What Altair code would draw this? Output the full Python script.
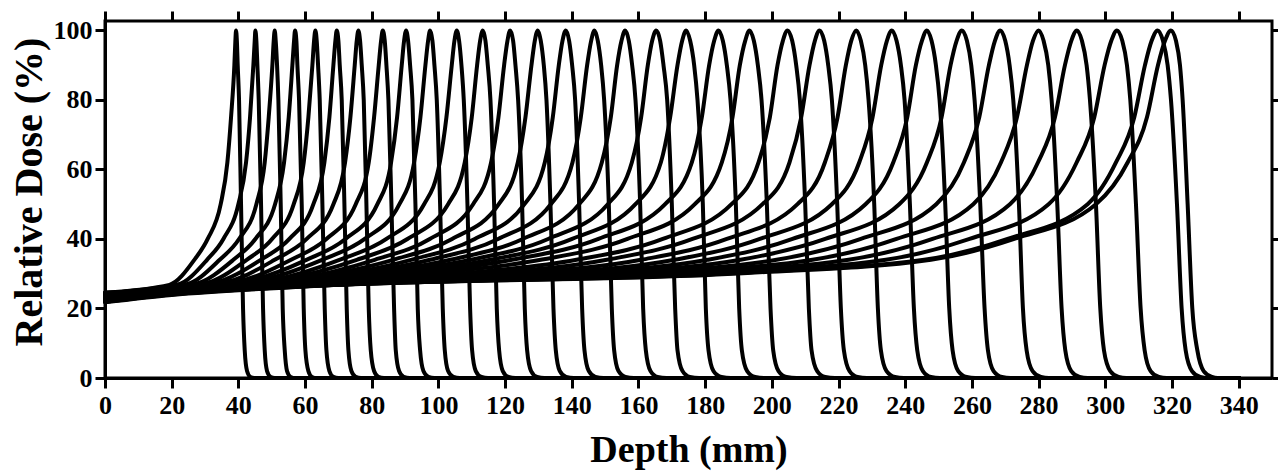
import altair as alt
import pandas as pd

# Peak depths (mm) of the 33 Bragg curves
peaks = [39.3, 45.1, 50.9, 57.0, 63.1, 69.5, 76.0, 83.3, 90.3, 97.5, 105.5, 113.3,
         121.5, 129.8, 138.2, 146.8, 156.0, 165.3, 174.3, 184.0, 193.3, 204.7, 214.3,
         225.3, 236.0, 246.5, 257.0, 268.5, 280.0, 291.5, 303.5, 315.7, 319.7]

# Depth (mm) / relative dose (%) points of each curve
d00 = [0, 19.3, 26.8, 30.8, 34.7, 36.7, 37.8, 38.8, 39.1, 39.3, 39.55, 39.8, 40.2, 40.8, 41.4, 41.9, 42.6, 43.6, 44.8, 340]
v00 = [24.6, 26.8, 34, 40, 50, 62, 75, 90, 97, 100, 97, 90, 80, 50, 20, 8, 2, 0.3, 0, 0]
d01 = [0, 21.9, 30.6, 35.5, 40.0, 42.3, 43.5, 44.5, 44.9, 45.1, 45.4, 45.7, 46.1, 46.8, 47.4, 47.9, 48.6, 49.7, 50.9, 340]
v01 = [24.4, 26.9, 34, 40, 50, 62, 75, 90, 97, 100, 97, 90, 80, 50, 20, 8, 2, 0.3, 0, 0]
d02 = [0, 24.5, 34.4, 40.2, 45.4, 47.9, 49.1, 50.2, 50.6, 50.9, 51.2, 51.6, 52.0, 52.7, 53.3, 53.9, 54.6, 55.7, 57.1, 340]
v02 = [24.5, 27.0, 34, 40, 50, 62, 75, 90, 97, 100, 97, 90, 80, 50, 20, 8, 2, 0.3, 0, 0]
d03 = [0, 27.2, 38.5, 45.1, 51.0, 53.7, 55.1, 56.2, 56.7, 57.0, 57.4, 57.7, 58.2, 59.0, 59.6, 60.1, 61.0, 62.1, 63.5, 340]
v03 = [24.2, 27.1, 34, 40, 50, 62, 75, 90, 97, 100, 97, 90, 80, 50, 20, 8, 2, 0.3, 0, 0]
d04 = [0, 30.0, 42.5, 50.1, 56.6, 59.6, 61.0, 62.2, 62.7, 63.1, 63.5, 63.9, 64.4, 65.2, 65.9, 66.4, 67.3, 68.5, 70.0, 340]
v04 = [24.3, 27.2, 34, 40, 50, 62, 75, 90, 97, 100, 97, 90, 80, 50, 20, 8, 2, 0.3, 0, 0]
d05 = [0, 32.8, 46.7, 55.3, 62.5, 65.8, 67.3, 68.5, 69.1, 69.5, 70.0, 70.4, 71.0, 71.8, 72.5, 73.0, 73.9, 75.2, 76.8, 340]
v05 = [24.0, 27.4, 34, 40, 50, 62, 75, 90, 97, 100, 97, 90, 80, 50, 20, 8, 2, 0.3, 0, 0]
d06 = [0, 20, 35.7, 50.9, 60.5, 68.5, 72.0, 73.6, 74.9, 75.5, 76.0, 76.5, 77.0, 77.6, 78.4, 79.1, 79.7, 80.7, 82.0, 83.7, 340]
v06 = [24.1, 26.3, 27.5, 34, 40, 50, 62, 75, 90, 97, 100, 97, 90, 80, 50, 20, 8, 2, 0.3, 0, 0]
d07 = [0, 20, 39.0, 55.8, 66.4, 75.2, 79.1, 80.7, 82.1, 82.8, 83.3, 83.9, 84.4, 85.0, 85.9, 86.7, 87.2, 88.2, 89.6, 91.4, 340]
v07 = [23.8, 26.0, 27.6, 34, 40, 50, 62, 75, 90, 97, 100, 97, 90, 80, 50, 20, 8, 2, 0.3, 0, 0]
d08 = [0, 20, 42.1, 60.4, 72.1, 81.7, 85.8, 87.6, 89.0, 89.7, 90.3, 90.9, 91.5, 92.2, 93.1, 93.8, 94.5, 95.5, 97.0, 98.8, 340]
v08 = [23.9, 26.1, 27.8, 34, 40, 50, 62, 75, 90, 97, 100, 97, 90, 80, 50, 20, 8, 2, 0.3, 0, 0]
d09 = [0, 20, 45.3, 65.1, 77.9, 88.3, 92.7, 94.6, 96.1, 96.9, 97.5, 98.2, 98.8, 99.5, 100.5, 101.3, 101.9, 102.9, 104.5, 106.4, 340]
v09 = [23.6, 25.8, 27.9, 34, 40, 50, 62, 75, 90, 97, 100, 97, 90, 80, 50, 20, 8, 2, 0.3, 0, 0]
d10 = [0, 20, 48.9, 70.3, 84.4, 95.7, 100.4, 102.4, 104.0, 104.8, 105.5, 106.2, 106.9, 107.6, 108.7, 109.5, 110.1, 111.2, 112.9, 114.9, 340]
v10 = [23.7, 25.9, 28.0, 34, 40, 50, 62, 75, 90, 97, 100, 97, 90, 80, 50, 20, 8, 2, 0.3, 0, 0]
d11 = [0, 20, 52.4, 75.5, 90.7, 102.9, 107.9, 110.0, 111.6, 112.5, 113.3, 114.1, 114.8, 115.6, 116.7, 117.5, 118.2, 119.3, 121.0, 123.1, 340]
v11 = [23.4, 25.6, 28.2, 34, 40, 50, 62, 75, 90, 97, 100, 97, 90, 80, 50, 20, 8, 2, 0.3, 0, 0]
d12 = [0, 20, 56.1, 80.9, 97.4, 110.4, 115.8, 118.0, 119.7, 120.7, 121.5, 122.4, 123.1, 123.9, 125.1, 125.9, 126.6, 127.8, 129.6, 131.8, 340]
v12 = [23.5, 25.7, 28.3, 34, 40, 50, 62, 75, 90, 97, 100, 97, 90, 80, 50, 20, 8, 2, 0.3, 0, 0]
d13 = [0, 20, 59.8, 86.4, 104.1, 118.1, 123.8, 126.1, 127.9, 128.9, 129.8, 130.7, 131.6, 132.4, 133.6, 134.5, 135.2, 136.4, 138.3, 140.6, 340]
v13 = [23.2, 25.4, 28.5, 34, 40, 50, 62, 75, 90, 97, 100, 97, 90, 80, 50, 20, 8, 2, 0.3, 0, 0]
d14 = [0, 20, 63.5, 91.8, 110.9, 125.8, 131.9, 134.3, 136.1, 137.2, 138.2, 139.2, 140.1, 141.0, 142.2, 143.1, 143.8, 145.1, 147.1, 149.5, 340]
v14 = [23.3, 25.5, 28.6, 34, 40, 50, 62, 75, 90, 97, 100, 97, 90, 80, 50, 20, 8, 2, 0.3, 0, 0]
d15 = [0, 20, 67.4, 97.5, 117.9, 133.7, 140.2, 142.7, 144.6, 145.8, 146.8, 147.8, 148.8, 149.7, 151.1, 152.0, 152.7, 154.0, 156.1, 158.6, 340]
v15 = [23.0, 25.2, 28.8, 34, 40, 50, 62, 75, 90, 97, 100, 97, 90, 80, 50, 20, 8, 2, 0.3, 0, 0]
d16 = [0, 20, 71.4, 103.6, 125.3, 142.2, 149.0, 151.7, 153.6, 154.9, 156.0, 157.1, 158.1, 159.1, 160.5, 161.4, 162.2, 163.6, 165.7, 168.4, 340]
v16 = [23.1, 25.3, 29.0, 34, 40, 50, 62, 75, 90, 97, 100, 97, 90, 80, 50, 20, 8, 2, 0.3, 0, 0]
d17 = [0, 20, 75.6, 109.7, 132.9, 150.8, 158.0, 160.8, 162.8, 164.1, 165.3, 166.5, 167.5, 168.6, 170.0, 171.0, 171.7, 173.2, 175.4, 178.2, 340]
v17 = [22.8, 25.0, 29.2, 34, 40, 50, 62, 75, 90, 97, 100, 97, 90, 80, 50, 20, 8, 2, 0.3, 0, 0]
d18 = [0, 20, 79.7, 115.6, 140.1, 159.1, 166.7, 169.5, 171.7, 173.1, 174.3, 175.5, 176.7, 177.7, 179.3, 180.2, 181.0, 182.5, 184.9, 187.7, 340]
v18 = [22.9, 25.1, 29.3, 34, 40, 50, 62, 75, 90, 97, 100, 97, 90, 80, 50, 20, 8, 2, 0.3, 0, 0]
d19 = [0, 20, 84.0, 122.0, 148.0, 168.0, 176.0, 179.0, 181.2, 182.7, 184.0, 185.3, 186.5, 187.6, 189.2, 190.2, 191.0, 192.6, 195.0, 198.0, 340]
v19 = [22.6, 24.8, 29.5, 34, 40, 50, 62, 75, 90, 97, 100, 97, 90, 80, 50, 20, 8, 2, 0.3, 0, 0]
d20 = [0, 20, 91.5, 130.7, 156.7, 176.9, 185.0, 188.2, 190.4, 192.0, 193.3, 194.6, 195.8, 196.9, 198.5, 199.6, 200.4, 202.0, 204.4, 207.4, 340]
v20 = [22.7, 24.9, 29.6, 34, 40, 50, 62, 75, 90, 97, 100, 97, 90, 80, 50, 20, 8, 2, 0.3, 0, 0]
d21 = [0, 20, 100.8, 141.4, 167.3, 187.9, 196.0, 199.4, 201.7, 203.3, 204.7, 206.1, 207.3, 208.4, 210.0, 211.1, 211.9, 213.6, 216.0, 218.9, 340]
v21 = [22.4, 24.6, 29.6, 34, 40, 50, 62, 75, 90, 97, 100, 97, 90, 80, 50, 20, 8, 2, 0.3, 0, 0]
d22 = [0, 20, 60, 108.6, 150.5, 176.2, 197.2, 205.3, 208.8, 211.3, 212.9, 214.3, 215.7, 216.9, 218.0, 219.6, 220.7, 221.6, 223.3, 225.7, 228.5, 340]
v22 = [22.5, 24.7, 27.0, 29.7, 34, 40, 50, 62, 75, 90, 97, 100, 97, 90, 80, 50, 20, 8, 2, 0.3, 0, 0]
d23 = [0, 20, 60, 117.4, 160.8, 186.5, 207.7, 215.9, 219.7, 222.2, 223.8, 225.3, 226.7, 228.0, 229.0, 230.7, 231.8, 232.7, 234.4, 236.9, 239.6, 340]
v23 = [22.2, 24.4, 26.7, 29.8, 34, 40, 50, 62, 75, 90, 97, 100, 97, 90, 80, 50, 20, 8, 2, 0.3, 0, 0]
d24 = [0, 20, 60, 126.1, 170.8, 196.4, 218.0, 226.2, 230.2, 232.8, 234.5, 236.0, 237.4, 238.7, 239.8, 241.4, 242.6, 243.6, 245.3, 247.7, 250.4, 340]
v24 = [22.3, 24.5, 26.8, 29.8, 34, 40, 50, 62, 75, 90, 97, 100, 97, 90, 80, 50, 20, 8, 2, 0.3, 0, 0]
d25 = [0, 20, 60, 134.6, 180.7, 206.2, 228.1, 236.4, 240.6, 243.2, 245.0, 246.5, 247.9, 249.2, 250.3, 252.0, 253.2, 254.2, 255.9, 258.4, 261.0, 340]
v25 = [22.1, 24.3, 26.6, 29.9, 34, 40, 50, 62, 75, 90, 97, 100, 97, 90, 80, 50, 20, 8, 2, 0.3, 0, 0]
d26 = [0, 20, 60, 143.1, 190.6, 216.0, 238.2, 246.5, 250.9, 253.6, 255.4, 257.0, 258.5, 259.8, 260.8, 262.5, 263.8, 264.8, 266.5, 269.0, 271.6, 340]
v26 = [22.2, 24.4, 26.7, 29.9, 34, 40, 50, 62, 75, 90, 97, 100, 97, 90, 80, 50, 20, 8, 2, 0.3, 0, 0]
d27 = [0, 20, 60, 152.5, 201.4, 226.7, 249.3, 257.6, 262.2, 265.1, 266.9, 268.5, 270.0, 271.3, 272.4, 274.1, 275.3, 276.4, 278.2, 280.7, 283.1, 340]
v27 = [22.0, 24.2, 26.5, 30.0, 34, 40, 50, 62, 75, 90, 97, 100, 97, 90, 80, 50, 20, 8, 2, 0.3, 0, 0]
d28 = [0, 20, 60, 161.8, 212.2, 237.4, 260.4, 268.7, 273.5, 276.5, 278.3, 280.0, 281.5, 282.9, 283.9, 285.6, 286.9, 288.0, 289.8, 292.3, 294.7, 340]
v28 = [22.1, 24.3, 26.6, 30.1, 34, 40, 50, 62, 75, 90, 97, 100, 97, 90, 80, 50, 20, 8, 2, 0.3, 0, 0]
d29 = [0, 20, 60, 171.1, 223.0, 248.2, 271.4, 279.8, 284.9, 287.9, 289.8, 291.5, 293.0, 294.4, 295.4, 297.2, 298.5, 299.6, 301.5, 304.0, 306.3, 340]
v29 = [21.9, 24.1, 26.4, 30.2, 34, 40, 50, 62, 75, 90, 97, 100, 97, 90, 80, 50, 20, 8, 2, 0.3, 0, 0]
d30 = [0, 20, 60, 180.8, 234.2, 259.3, 283.0, 291.4, 296.7, 299.8, 301.8, 303.5, 305.1, 306.5, 307.5, 309.2, 310.6, 311.8, 313.6, 316.1, 318.4, 340]
v30 = [22.0, 24.2, 26.5, 30.2, 34, 40, 50, 62, 75, 90, 97, 100, 97, 90, 80, 50, 20, 8, 2, 0.3, 0, 0]
d31 = [0, 20, 60, 190.7, 245.7, 270.7, 294.7, 303.2, 308.7, 311.9, 313.9, 315.7, 317.3, 318.7, 319.7, 321.5, 322.9, 324.1, 326.0, 328.5, 330.7, 340]
v31 = [21.8, 23.9, 26.3, 30.3, 34, 40, 50, 62, 75, 90, 97, 100, 97, 90, 80, 50, 20, 8, 2, 0.3, 0, 0]
d32 = [0, 20, 60, 192.7, 247.7, 272.7, 297.2, 306.7, 312.5, 315.8, 317.9, 319.7, 321.2, 322.4, 323.2, 324.7, 326.1, 327.6, 329.5, 332.0, 333.7, 340]
v32 = [21.9, 24.0, 26.4, 30.2, 34, 40, 50, 62, 75, 90, 97, 100, 97, 90, 80, 50, 20, 8, 2, 0.3, 0, 0]

x_ticks = [0, 20, 40, 60, 80, 100, 120, 140, 160, 180, 200, 220, 240, 260, 280, 300, 320, 340]
y_ticks = [0, 20, 40, 60, 80, 100]

curves = [(d00, v00), (d01, v01), (d02, v02), (d03, v03), (d04, v04), (d05, v05),
          (d06, v06), (d07, v07), (d08, v08), (d09, v09), (d10, v10), (d11, v11),
          (d12, v12), (d13, v13), (d14, v14), (d15, v15), (d16, v16), (d17, v17),
          (d18, v18), (d19, v19), (d20, v20), (d21, v21), (d22, v22), (d23, v23),
          (d24, v24), (d25, v25), (d26, v26), (d27, v27), (d28, v28), (d29, v29),
          (d30, v30), (d31, v31), (d32, v32)]

rows = []
for i, (ds, vs) in enumerate(curves):
    assert len(ds) == len(vs), i
    for j, (x, y) in enumerate(zip(ds, vs)):
        rows.append({"curve": i, "ord": j, "depth": x, "dose": y})
df = pd.DataFrame(rows)

FONT = "Liberation Serif"
W, H = 1167, 357

xscale = alt.Scale(domain=[0, 350], nice=False, zero=False)
yscale = alt.Scale(domain=[0, 102.7], nice=False, zero=False)

common_axis = dict(
    domainColor="black", domainWidth=3, tickColor="black", tickWidth=3, tickSize=10,
    grid=False, labelFont=FONT, labelFontWeight="bold", labelFontSize=26,
    labelColor="black", titleFont=FONT, titleFontWeight="bold", titleColor="black",
)

lines = alt.Chart(df).mark_line(
    color="black", strokeWidth=4, interpolate="monotone",
    strokeJoin="round", strokeCap="round",
).encode(
    x=alt.X("depth:Q", scale=xscale,
            axis=alt.Axis(values=x_ticks, title="Depth (mm)", titleFontSize=38,
                          labelPadding=4, titleX=W / 2, titleY=72,
                          titleBaseline="middle", labelFlush=False, **common_axis)),
    y=alt.Y("dose:Q", scale=yscale,
            axis=alt.Axis(values=y_ticks, title="Relative Dose (%)", titleFontSize=40,
                          labelPadding=3, titleX=-76, titleY=H / 2 - 8,
                          titleBaseline="middle", titleAngle=270, labelFlush=False,
                          **common_axis)),
    detail="curve:N",
    order="ord:Q",
)

mirror = alt.Chart(df).mark_point(opacity=0).encode(
    x=alt.X("depth:Q", scale=xscale,
            axis=alt.Axis(orient="top", values=x_ticks, labels=False, title="",
                          domain=False, tickColor="black", tickWidth=3, tickSize=10,
                          grid=False)),
    y=alt.Y("dose:Q", scale=yscale,
            axis=alt.Axis(orient="right", values=y_ticks, labels=False, title="",
                          domain=False, tickColor="black", tickWidth=3, tickSize=10,
                          grid=False)),
)

chart = alt.layer(lines, mirror).resolve_axis(x="independent", y="independent").properties(
    width=W, height=H,
    autosize=alt.AutoSizeParams(type="none"),
    padding={"left": 105, "top": 21, "right": 6, "bottom": 97},
    background="white",
).configure_view(stroke="black", strokeWidth=3)

chart.save("out.html", embed_options={"renderer": "svg", "actions": False})
